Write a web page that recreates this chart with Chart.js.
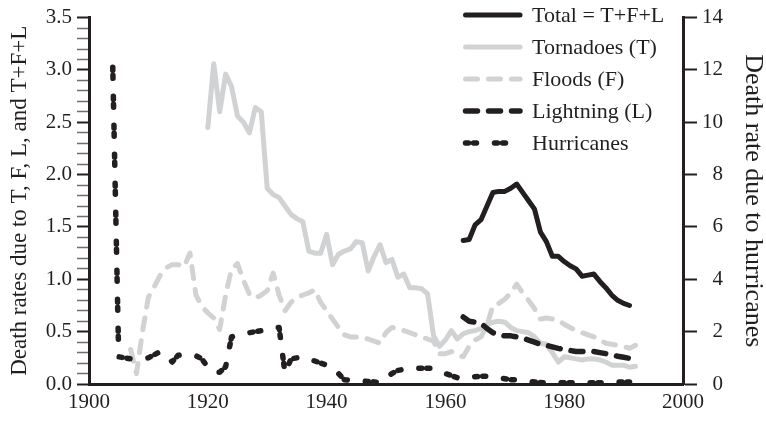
<!DOCTYPE html>
<html>
<head>
<meta charset="utf-8">
<script src="https://cdn.jsdelivr.net/npm/chart.js@4.4.1/dist/chart.umd.min.js"></script>
<style>
  html, body { margin: 0; padding: 0; background: #fff; }
  canvas { display: block; }
</style>
</head>
<body>
<canvas id="chart" width="766" height="422"></canvas>
<script>
// --- data (left axis units, hurricanes in right axis units) ---
const totalStart = 1963;
const total = [1.37, 1.38, 1.52, 1.57, 1.70, 1.83, 1.84, 1.84, 1.87, 1.91,
               1.83, 1.75, 1.67, 1.45, 1.36, 1.22, 1.22, 1.17, 1.13, 1.10,
               1.03, 1.04, 1.05, 0.98, 0.92, 0.85, 0.80, 0.77, 0.75];

const tornadoStart = 1920;
const tornado = [2.45, 3.06, 2.60, 2.96, 2.84, 2.56, 2.50, 2.40, 2.64, 2.60,
                 1.87, 1.81, 1.78, 1.70, 1.62, 1.58, 1.55, 1.27, 1.25, 1.25,
                 1.43, 1.14, 1.24, 1.27, 1.29, 1.36, 1.35, 1.08, 1.22, 1.33,
                 1.16, 1.19, 1.02, 1.05, 0.92, 0.92, 0.91, 0.86, 0.46, 0.36,
                 0.42, 0.51, 0.43, 0.48, 0.50, 0.51, 0.53, 0.57, 0.59, 0.60,
                 0.59, 0.54, 0.51, 0.50, 0.49, 0.45, 0.39, 0.38, 0.30, 0.21,
                 0.26, 0.25, 0.24, 0.23, 0.24, 0.24, 0.23, 0.21, 0.18, 0.18,
                 0.18, 0.16, 0.17];

const floodStart = 1907;
const floods = [0.33, 0.10, 0.50, 0.83, 0.93, 1.04, 1.11, 1.14, 1.14, 1.12,
                1.25, 0.85, 0.74, 0.68, 0.63, 0.52, 0.85, 1.10, 1.15, 0.99,
                0.86, 0.82, 0.85, 0.89, 1.06, 0.85, 0.70, 0.78, 0.83, 0.85,
                0.87, 0.90, 0.78, 0.70, 0.62, 0.54, 0.47, 0.45, 0.45, 0.44,
                0.43, 0.41, 0.39, 0.49, 0.54, 0.53, 0.51, 0.49, 0.47, 0.45,
                0.43, 0.41, 0.29, 0.29, 0.31, 0.28, 0.26, 0.36, 0.42, 0.45,
                0.56, 0.75, 0.77, 0.81, 0.87, 0.955, 0.87, 0.80, 0.72, 0.62,
                0.63, 0.62, 0.61, 0.57, 0.54, 0.51, 0.49, 0.47, 0.45, 0.42,
                0.39, 0.38, 0.37, 0.36, 0.34, 0.37];

const lightningStart = 1963;
const lightning = [0.64, 0.60, 0.59, 0.58, 0.53, 0.49, 0.47, 0.46, 0.46, 0.45,
                   0.44, 0.42, 0.40, 0.38, 0.37, 0.355, 0.34, 0.33, 0.32, 0.31,
                   0.31, 0.31, 0.31, 0.30, 0.29, 0.28, 0.265, 0.255, 0.245];

const hurricaneStart = 1904;
const hurricanes = [12.1, 1.04, 1.0, 0.96, 0.96, 0.96, 1.0, 1.12, 1.24, 1.1,
                    0.84, 1.1, 1.12, 1.12, 1.08, 0.96, 0.64, 0.45, 0.45, 0.66,
                    1.8, 1.88, 1.92, 1.96, 2.0, 2.04, 2.08, 2.16, 2.16, 0.4,
                    0.96, 1.0, 1.04, 0.96, 0.88, 0.8, 0.72, 0.66, 0.4, 0.16,
                    0.14, 0.12, 0.12, 0.1, 0.08, 0.04, 0.24, 0.4, 0.52, 0.56,
                    0.56, 0.6, 0.6, 0.6, 0.6, 0.48, 0.4, 0.32, 0.24, 0.2,
                    0.24, 0.28, 0.3, 0.3, 0.3, 0.24, 0.2, 0.16, 0.16, 0.14,
                    0.1, 0.08, 0.06, 0.04, 0.04, 0.04, 0.05, 0.05, 0.05, 0.05,
                    0.05, 0.05, 0.05, 0.05, 0.06, 0.08, 0.08, 0.08];

const xTicks = [1900, 1920, 1940, 1960, 1980, 2000];

const INK = '#231f20';
const GREY = '#d1d2d4';
const FONT = '"Liberation Serif", "Times New Roman", serif';

const toPoints = (start, values) => values.map((v, i) => ({ x: start + i, y: v }));
const isHalf = (v) => Math.abs(v * 2 - Math.round(v * 2)) < 1e-6;

// legend drawn inside the plot, top right
const insideLegend = {
    id: 'insideLegend',
    afterDraw(chart) {
        const ctx = chart.ctx;
        ctx.save();
        ctx.font = '22px ' + FONT;
        ctx.textBaseline = 'middle';
        chart.data.datasets.forEach((ds, i) => {
            const y = 15 + i * 32;
            ctx.beginPath();
            ctx.strokeStyle = ds.borderColor;
            ctx.lineWidth = ds.borderWidth;
            ctx.lineCap = ds.borderCapStyle || 'butt';
            ctx.setLineDash(ds.borderDash || []);
            ctx.moveTo(465.5, y);
            ctx.lineTo(520, y);
            ctx.stroke();
            ctx.setLineDash([]);
            ctx.fillStyle = INK;
            ctx.fillText(ds.label, 532, y + 1);
        });
        ctx.restore();
    }
};

const lineStyle = (color, width, dash) => ({
    borderColor: color,
    backgroundColor: color,
    borderWidth: width,
    borderDash: dash,
    borderCapStyle: 'round',
    borderJoinStyle: 'round',
    pointRadius: 0,
    tension: 0,
    fill: false,
    clip: false
});

new Chart(document.getElementById('chart'), {
    type: 'line',
    data: {
        datasets: [
            Object.assign({ label: 'Total = T+F+L', data: toPoints(totalStart, total), order: 0 },
                lineStyle(INK, 5, [])),
            Object.assign({ label: 'Tornadoes (T)', data: toPoints(tornadoStart, tornado), order: 3 },
                lineStyle(GREY, 5, [])),
            Object.assign({ label: 'Floods (F)', data: toPoints(floodStart, floods), order: 4 },
                lineStyle(GREY, 5, [12, 11])),
            Object.assign({ label: 'Lightning (L)', data: toPoints(lightningStart, lightning), order: 1 },
                lineStyle(INK, 5.5, [12, 11])),
            Object.assign({ label: 'Hurricanes', data: toPoints(hurricaneStart, hurricanes), order: 2, yAxisID: 'y2' },
                lineStyle(INK, 5.5, [3, 5, 3, 18]))
        ]
    },
    options: {
        responsive: false,
        animation: false,
        devicePixelRatio: 1,
        layout: { padding: { top: 15, right: 43, bottom: 0, left: 0 } },
        plugins: {
            legend: { display: false },
            tooltip: { enabled: false }
        },
        scales: {
            x: {
                type: 'linear',
                min: xTicks[0],
                max: xTicks[xTicks.length - 1],
                afterBuildTicks: (scale) => { scale.ticks = xTicks.map(v => ({ value: v })); },
                ticks: {
                    color: INK,
                    font: { family: FONT, size: 21 },
                    padding: 6,
                    maxRotation: 0,
                    autoSkip: false,
                    callback: (v) => String(v)
                },
                grid: { display: false, drawTicks: false },
                border: { display: true, color: INK, width: 3 },
                afterFit: (scale) => { scale.height = 38; }
            },
            y: {
                position: 'left',
                min: 0,
                max: 3.5,
                ticks: {
                    stepSize: 0.1,
                    autoSkip: false,
                    color: INK,
                    font: { family: FONT, size: 21 },
                    padding: 5,
                    callback: (v) => isHalf(v) ? v.toFixed(1) : ''
                },
                grid: {
                    drawOnChartArea: false,
                    tickLength: 12,
                    tickColor: (c) => (c.tick && isHalf(c.tick.value)) ? INK : '#6d6e70',
                    tickWidth: (c) => (c.tick && isHalf(c.tick.value)) ? 2 : 1.5
                },
                border: { display: true, color: INK, width: 3 },
                title: {
                    display: true,
                    text: 'Death rates due to T, F, L, and T+F+L',
                    color: INK,
                    font: { family: FONT, size: 23 },
                    padding: { top: 6, bottom: 0 }
                },
                afterFit: (scale) => { scale.width = 89; }
            },
            y2: {
                position: 'right',
                min: 0,
                max: 14,
                ticks: {
                    stepSize: 2,
                    autoSkip: false,
                    crossAlign: 'far',
                    color: INK,
                    font: { family: FONT, size: 21 }
                },
                grid: {
                    drawOnChartArea: false,
                    tickLength: 14,
                    tickColor: INK,
                    tickWidth: 2
                },
                border: { display: true, color: INK, width: 3 },
                title: {
                    display: true,
                    text: 'Death rate due to hurricanes',
                    color: INK,
                    font: { family: FONT, size: 26 },
                    padding: { top: -45, bottom: 0 }
                },
                afterFit: (scale) => { scale.width = 40; }
            }
        }
    },
    plugins: [insideLegend]
});
</script>
</body>
</html>
